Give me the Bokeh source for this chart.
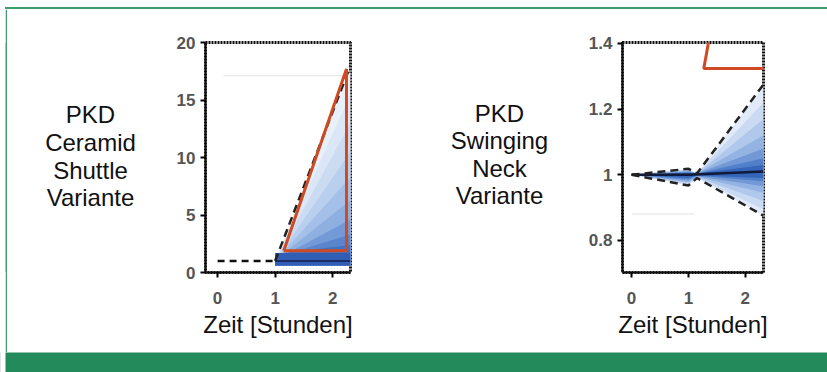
from bokeh.plotting import figure
from bokeh.models import Range1d, FixedTicker, Spacer, Div
from bokeh.layouts import column, row
from bokeh.core.properties import value
from bokeh.embed import file_html
from bokeh.resources import INLINE

FONT = "Liberation Sans"

# ---------------- data ----------------
titles_left = ["PKD", "Ceramid", "Shuttle", "Variante"]
titles_right = ["PKD", "Swinging", "Neck", "Variante"]
axis_label = "Zeit [Stunden]"

x_ticks = [0, 1, 2]
y_ticks_left = [0, 5, 10, 15, 20]
y_ticks_right = [0.8, 1.0, 1.2, 1.4]
y_tick_labels_right = {0.8: "0.8", 1.0: "1", 1.2: "1.2", 1.4: "1.4"}

# left panel (Ceramid Shuttle)
fan_x_left = [1.0, 2.31]
fan_bottom_left = [0.6, 0.6]
fan_tops_left = [[1.0, 17.6], [1.0, 15.5], [1.0, 13.0], [1.0, 10.5], [1.0, 8.3],
                 [1.05, 6.3], [1.1, 4.6], [1.3, 3.3], [1.6, 2.4], [1.7, 1.7]]
fan_colors_left = ["#e8f0fa", "#dbe6f6", "#cbdbf2", "#b9cfee", "#a5c0e8",
                   "#8eb0e1", "#7399d7", "#5a85cd", "#4371c2", "#2f5eb4"]
base_dash_x_left = [0.0, 1.0]
base_dash_y_left = [1.0, 1.0]
base_solid_x_left = [1.0, 2.31]
base_solid_y_left = [1.0, 1.0]
upper_dash_x_left = [1.0, 2.31]
upper_dash_y_left = [1.0, 18.0]
faint_x_left = [0.1, 2.31]
faint_y_left = [17.1, 17.1]
tri_x_left = [1.15, 2.24, 2.24, 1.15]
tri_y_left = [1.9, 1.9, 17.7, 1.9]

# right panel (Swinging Neck)
base_x_right = [0.0, 1.0, 2.32]
base_y_right = [1.0, 1.0, 1.01]
fan_x_right = [0.0, 1.0, 1.15, 2.32]
fan_upper_right = [[1.0, 1.018, 1.004, 1.27], [1.0, 1.016, 1.004, 1.22],
                   [1.0, 1.014, 1.004, 1.17], [1.0, 1.012, 1.004, 1.12],
                   [1.0, 1.010, 1.004, 1.08], [1.0, 1.008, 1.004, 1.05],
                   [1.0, 1.005, 1.004, 1.03]]
fan_lower_right = [[1.0, 0.967, 0.99, 0.875], [1.0, 0.970, 0.991, 0.895],
                   [1.0, 0.974, 0.992, 0.92], [1.0, 0.978, 0.994, 0.945],
                   [1.0, 0.982, 0.995, 0.965], [1.0, 0.986, 0.997, 0.98],
                   [1.0, 0.990, 0.998, 0.99]]
fan_colors_right = ["#e0eaf8", "#c9daf2", "#b0c8ec", "#93b3e3", "#7299d6", "#5080c9", "#3566b9"]
upper_dash_x_right = [0.0, 1.0, 1.15, 2.32]
upper_dash_y_right = [1.0, 1.018, 1.004, 1.275]
lower_dash_x_right = [0.0, 1.0, 1.15, 2.32]
lower_dash_y_right = [1.0, 0.967, 0.99, 0.875]
faint_x_right = [0.0, 1.1]
faint_y_right = [0.88, 0.88]
orange_x_right = [1.37, 1.27, 2.45]
orange_y_right = [1.42, 1.324, 1.324]

GREEN = "#238a5c"
BORDER_GREEN = "#3f9d6e"
ORANGE = "#cf4a22"


def blank(width, height, fill):
    p = figure(width=width, height=height, output_backend="svg", toolbar_location=None,
               x_axis_type=None, y_axis_type=None, min_border=0, outline_line_color=None,
               background_fill_color=fill, border_fill_color=fill)
    p.grid.visible = False
    return p


def text_panel(x0, x1, xs, ys, labels):
    p = figure(width=x1 - x0, height=343, x_range=Range1d(x0, x1), y_range=Range1d(272, 42),
               output_backend="svg", toolbar_location=None, x_axis_type=None, y_axis_type=None,
               min_border_left=0, min_border_right=0, min_border_top=33, min_border_bottom=80,
               outline_line_color=None)
    p.grid.visible = False
    p.text(x=xs, y=ys, text=labels, text_align="center", text_baseline="alphabetic",
           text_font=value(FONT), text_font_size="24px", text_color="#111111")
    return p


def style_plot(p, yticks, ylabels=None):
    p.grid.visible = False
    p.outline_line_color = "#111111"
    p.outline_line_width = 3
    p.outline_line_dash = "2 1"
    for ax in (p.xaxis[0], p.yaxis[0]):
        ax.axis_line_color = "#111111"
        ax.axis_line_width = 2
        ax.major_tick_out = 5
        ax.major_tick_in = 0
        ax.major_tick_line_width = 2
        ax.minor_tick_out = 0
        ax.minor_tick_in = 0
        ax.major_label_text_font = FONT
        ax.major_label_text_font_size = "17px"
        ax.major_label_text_font_style = "bold"
        ax.major_label_text_color = "#555555"
    p.xaxis[0].ticker = FixedTicker(ticks=x_ticks)
    p.yaxis[0].ticker = FixedTicker(ticks=yticks)
    if ylabels:
        p.yaxis[0].major_label_overrides = ylabels
    p.xaxis[0].major_label_standoff = 14
    p.yaxis[0].major_label_standoff = 5
    p.xaxis[0].axis_label = axis_label
    p.xaxis[0].axis_label_text_font = FONT
    p.xaxis[0].axis_label_text_font_size = "24px"
    p.xaxis[0].axis_label_text_font_style = "normal"
    p.xaxis[0].axis_label_text_color = "#111111"
    p.xaxis[0].axis_label_standoff = 4


# ---------- left text ----------
ta = text_panel(7, 165, [90] * 4, [114, 142, 170, 197], titles_left)

# ---------- left plot ----------
p1 = figure(width=200, height=343, x_range=Range1d(-0.21, 2.31), y_range=Range1d(0, 20),
            output_backend="svg", toolbar_location=None,
            min_border_left=40, min_border_right=15, min_border_top=33, min_border_bottom=80)
style_plot(p1, y_ticks_left)
p1.line(faint_x_left, faint_y_left, line_color="#ececec", line_width=1.5)
for tops, col in zip(fan_tops_left, fan_colors_left):
    p1.varea(x=fan_x_left, y1=fan_bottom_left, y2=tops, fill_color=col)
p1.line(base_dash_x_left, base_dash_y_left, line_color="#111111", line_width=2.5, line_dash="7 5")
p1.line(base_solid_x_left, base_solid_y_left, line_color="#1a2d66", line_width=2)
p1.line(upper_dash_x_left, upper_dash_y_left, line_color="#222222", line_width=2.5, line_dash="8 5")
p1.line(tri_x_left, tri_y_left, line_color=ORANGE, line_width=3)

# ---------- middle text ----------
tb = text_panel(365, 570, [499] * 4, [113, 140, 168, 195], titles_right)

# ---------- right plot ----------
p2 = figure(width=257, height=343, x_range=Range1d(-0.16, 2.32), y_range=Range1d(0.702, 1.403),
            output_backend="svg", toolbar_location=None,
            min_border_left=52, min_border_right=64, min_border_top=33, min_border_bottom=80)
style_plot(p2, y_ticks_right, y_tick_labels_right)
p2.line(faint_x_right, faint_y_right, line_color="#f0f0f0", line_width=2)
for up, lo, col in zip(fan_upper_right, fan_lower_right, fan_colors_right):
    p2.varea(x=fan_x_right, y1=lo, y2=up, fill_color=col)
p2.line(base_x_right, base_y_right, line_color="#111a3a", line_width=2.5)
p2.line(upper_dash_x_right, upper_dash_y_right, line_color="#222222", line_width=2.5, line_dash="8 5")
p2.line(lower_dash_x_right, lower_dash_y_right, line_color="#222222", line_width=2.5, line_dash="8 5")
p2.line(orange_x_right, orange_y_right, line_color=ORANGE, line_width=3)

# ---------- frame decoration ----------
top_line = Div(text="", width=822, height=2,
               styles={"background-color": BORDER_GREEN, "margin": "0", "padding": "0"})
top_row = row(Spacer(width=5, height=2), top_line, spacing=0)
main_row = row(Spacer(width=5, height=343), blank(2, 343, BORDER_GREEN), ta, p1, tb, p2, spacing=0)
bar_row = row(blank(1, 20, "#c8c8c8"), Spacer(width=4, height=20), blank(822, 20, GREEN), spacing=0)

layout = column(Spacer(width=827, height=7), top_row, main_row, bar_row, spacing=0)

open("out.html", "w").write(file_html(layout, INLINE))
